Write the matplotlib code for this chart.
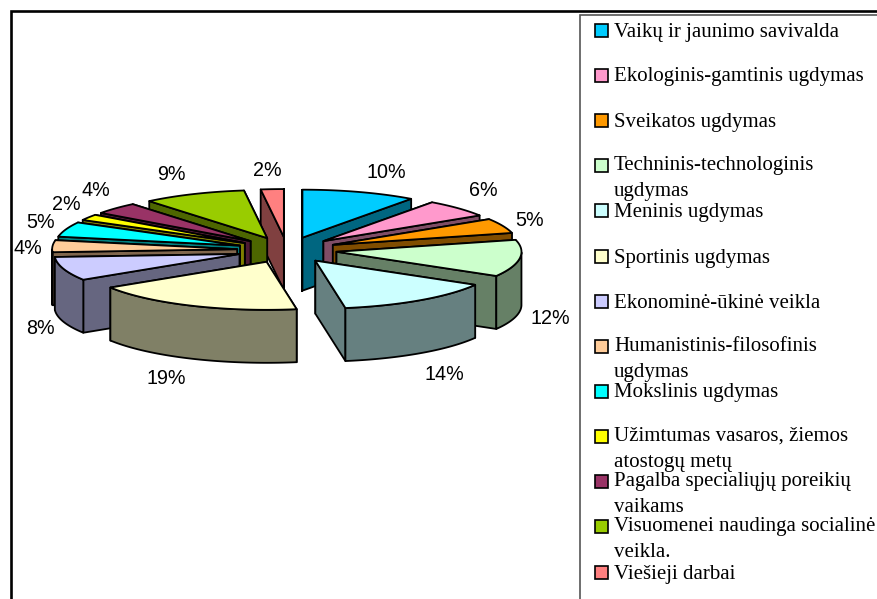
import numpy as np
import matplotlib
matplotlib.use('Agg')
import matplotlib.pyplot as plt
from matplotlib.patches import Polygon, Rectangle

# data
names = ['Vaikų ir jaunimo savivalda', 'Ekologinis-gamtinis ugdymas', 'Sveikatos ugdymas',
         'Techninis-technologinis\nugdymas', 'Meninis ugdymas', 'Sportinis ugdymas',
         'Ekonominė-ūkinė veikla', 'Humanistinis-filosofinis\nugdymas', 'Mokslinis ugdymas',
         'Užimtumas vasaros, žiemos\natostogų metų', 'Pagalba specialiųjų poreikių\nvaikams',
         'Visuomenei naudinga socialinė\nveikla.', 'Viešieji darbai']
values = [10, 6, 5, 12.4, 14, 18.6, 8, 4, 5, 2, 4, 9, 2]
colors = ['#00CCFF', '#FF99CC', '#FF9900', '#CCFFCC', '#CCFFFF', '#FFFFCC', '#CCCCFF',
          '#FFCC99', '#00FFFF', '#FFFF00', '#993366', '#99CC00', '#FF8080']

# label anchors in pixels, same order as values
label_x = [386, 483, 530, 550, 444, 166, 40, 28, 41, 66, 96, 171, 267]
label_y = [172, 190, 220, 318, 374, 378, 329, 249, 222, 205, 190, 175, 171]
legend_y = [30, 75, 120, 165, 210, 256, 301, 346, 391, 436, 481, 526, 572]

# pie geometry, pixels
cx, cy = 287, 250
rx, ry = 185, 48
explode = 0.27
depth = 53

fig = plt.figure(figsize=(8.77, 5.99), dpi=100)
ax = fig.add_axes([0, 0, 1, 1])
ax.set_xlim(0, 877)
ax.set_ylim(599, 0)
ax.axis('off')

# outer frame and legend box run off the image
ax.add_patch(Rectangle((10.5, 10.5), 1000, 1000, fc='white', ec='black', lw=1.9))
ax.add_patch(Rectangle((580, 15), 500, 800, fc='white', ec='#555555', lw=1.2))


def shade(c):
    return tuple(v * 0.5 for v in matplotlib.colors.to_rgb(c))


def pt(ang, x0, y0, r=1.0):
    return x0 + r * rx * np.sin(ang), y0 - r * ry * np.cos(ang)


edges = np.cumsum([0] + values) / sum(values) * 2 * np.pi
mids = (edges[:-1] + edges[1:]) / 2

# back wedges first
for i in sorted(range(len(values)), key=lambda k: -np.cos(mids[k])):
    a0, a1 = edges[i], edges[i + 1]
    ox, oy = pt(mids[i], cx, cy, explode)
    arc = np.linspace(a0, a1, 60)
    side = shade(colors[i])

    faces = []
    for a in (a0, a1):
        ex, ey = pt(a, ox, oy)
        faces.append([(ox, oy), (ex, ey), (ex, ey + depth), (ox, oy + depth)])
    faces.sort(key=lambda f: f[1][1])
    for f in faces:
        ax.add_patch(Polygon(f, closed=True, fc=side, ec='black', lw=1.3, joinstyle='round'))

    # outer rim, only the part facing the viewer
    front = arc[np.cos(arc) <= 0]
    if len(front) > 1:
        up = [pt(a, ox, oy) for a in front]
        down = [(x, y + depth) for x, y in up][::-1]
        ax.add_patch(Polygon(up + down, closed=True, fc=side, ec='black', lw=1.3, joinstyle='round'))

    top = [(ox, oy)] + [pt(a, ox, oy) for a in arc]
    ax.add_patch(Polygon(top, closed=True, fc=colors[i], ec='black', lw=1.3, joinstyle='round'))

for i, v in enumerate(values):
    ax.text(label_x[i], label_y[i], f'{round(v)}%', ha='center', va='center', fontsize=14.2,
            family='Liberation Sans', color='black')

for i, name in enumerate(names):
    ax.add_patch(Rectangle((595, legend_y[i] - 6.5), 13, 13, fc=colors[i], ec='black', lw=1.2))
    if '\n' in name:
        ax.text(614, legend_y[i] - 9, name, ha='left', va='top', fontsize=15,
                family='Liberation Serif', color='black', linespacing=1.5)
    else:
        ax.text(614, legend_y[i] + 2, name, ha='left', va='center', fontsize=15,
                family='Liberation Serif', color='black')

fig.savefig('out.png', dpi=100)
